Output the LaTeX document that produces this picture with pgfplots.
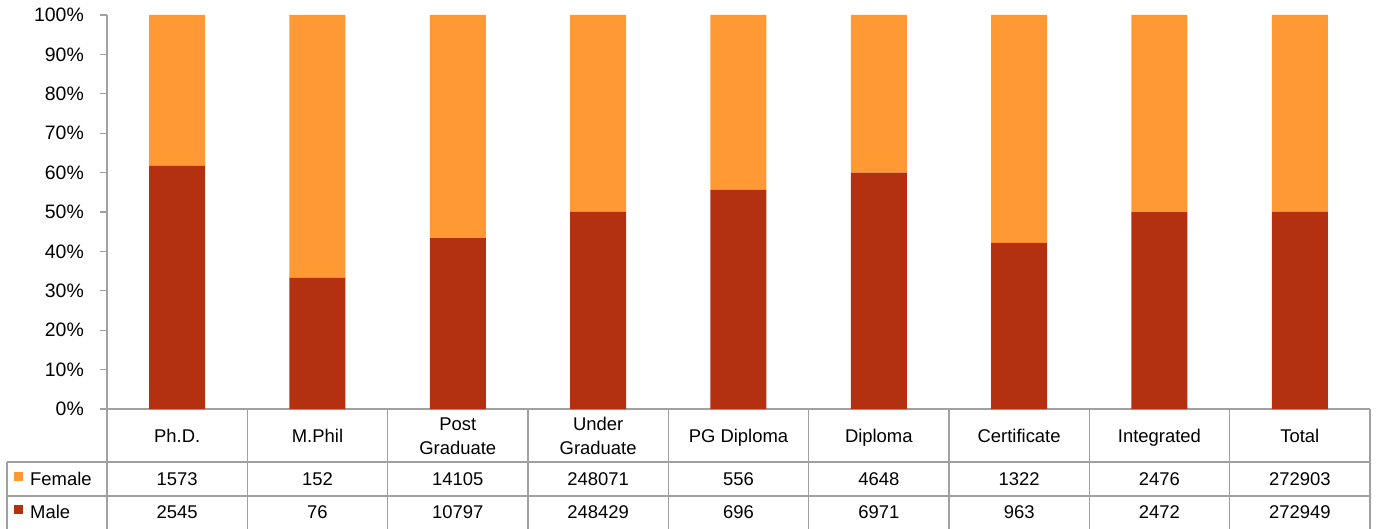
\documentclass[border=0pt]{standalone}
\usepackage{fontspec}
\setmainfont{Liberation Sans}
\usepackage{pgfplots}
\usepackage{pgfplotstable}
\pgfplotsset{compat=1.18}
\definecolor{female}{RGB}{255,153,51}
\definecolor{male}{RGB}{179,48,16}
\definecolor{gridc}{RGB}{160,160,160}
\pgfplotstableread{
x M F Mc Fc
0 61.80 38.20 2545 1573
1 33.33 66.67 76 152
2 43.36 56.64 10797 14105
3 50.04 49.96 248429 248071
4 55.59 44.41 696 556
5 60.00 40.00 6971 4648
6 42.14 57.86 963 1322
7 49.96 50.04 2472 2476
8 50.00 50.00 272949 272903
}\data
\newcommand\tabfont{\fontsize{18.5}{24}\selectfont}
\begin{document}
\begin{tikzpicture}
\useasboundingbox (0bp,0bp) rectangle (1378bp,529bp);
\begin{axis}[
  at={(107bp,120bp)}, anchor=south west,
  scale only axis, width=1263bp, height=394bp,
  xmin=-0.5, xmax=8.5, ymin=0, ymax=100,
  ybar stacked, bar width=56bp,
  axis lines*=left,
  axis line style={gridc, line width=1.2bp},
  xtick={0,...,8},
  xticklabels={\strut Ph.D., \strut M.Phil, {\strut Post\\\strut Graduate}, {\strut Under\\\strut Graduate}, \strut PG Diploma, \strut Diploma, \strut Certificate, \strut Integrated, \strut Total},
  x tick label style={font=\tabfont, align=center, anchor=center, yshift=-21.7bp},
  x tick style={draw=none},
  ytick={0,10,...,100},
  yticklabels={0\%,10\%,20\%,30\%,40\%,50\%,60\%,70\%,80\%,90\%,100\%},
  y tick label style={font=\fontsize{19.5}{22}\selectfont, anchor=east, inner sep=0pt, xshift=-16bp},
  y tick style={gridc, line width=1.2bp},
  tick align=outside, major tick length=7bp,
  clip=false,
  reverse legend,
  legend style={at={(axis description cs:-0.07363,-0.1589)}, anchor=north west,
    draw=none, fill=none, inner sep=0pt, row sep=17bp, column sep=7bp,
    nodes={inner sep=0pt, text height=13bp, text depth=3bp, font=\tabfont}},
  legend cell align=left,
  legend image code/.code={\fill[#1] (0bp,-0.5bp) rectangle (9bp,8.5bp);},
]
\addplot[fill=male, draw=none] table[x=x, y=M] \data;
\addlegendentry{Male}
\addplot[fill=female, draw=none] table[x=x, y=F] \data;
\addlegendentry{Female}
\end{axis}
\begin{axis}[
  at={(107bp,120bp)}, anchor=south west,
  scale only axis, width=1263bp, height=394bp,
  xmin=-0.5, xmax=8.5, ymin=0, ymax=100,
  hide axis, clip=false,
  point meta=explicit symbolic,
  nodes near coords,
  every node near coord/.append style={anchor=center, inner sep=0pt, font=\tabfont},
]
\addplot[draw=none] table[x=x, y expr=-17.77, meta=Fc] \data;
\addplot[draw=none] table[x=x, y expr=-26.27, meta=Mc] \data;
\end{axis}
\foreach \k in {0,...,9}{
  \pgfmathsetmacro\xx{107+140.333*\k}
  \draw[gridc, line width=1.2bp] (\xx bp,0bp) -- (\xx bp,120bp);
}
\draw[gridc, line width=1.2bp] (7bp,67bp) -- (1370bp,67bp);
\draw[gridc, line width=1.2bp] (7bp,33bp) -- (1370bp,33bp);
\draw[gridc, line width=1.2bp] (7bp,0bp) -- (7bp,67bp);
\end{tikzpicture}
\end{document}
